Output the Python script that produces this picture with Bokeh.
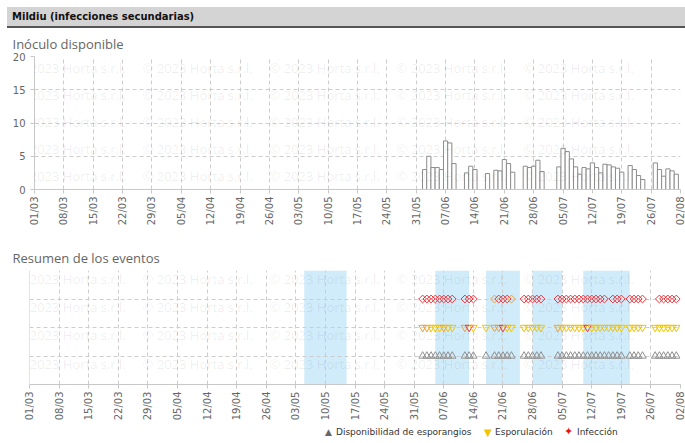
from math import pi
import pandas as pd
from bokeh.plotting import figure
from bokeh.models import ColumnDataSource, FixedTicker, LabelSet, Span, Div
from bokeh.layouts import column, row
from bokeh.embed import file_html
from bokeh.resources import INLINE
from bokeh.core.properties import value

# ---------------- data ----------------
temporada_inicio = "2023-03-01"
temporada_fin = "2023-08-02"
tick_etiquetas = ["01/03", "08/03", "15/03", "22/03", "29/03", "05/04", "12/04",
                  "19/04", "26/04", "03/05", "10/05", "17/05", "24/05", "31/05",
                  "07/06", "14/06", "21/06", "28/06", "05/07", "12/07", "19/07",
                  "26/07", "02/08"]

# Inóculo disponible: daily values of consecutive days starting on each date
inoculo_inicio = ["2023-06-02", "2023-06-12", "2023-06-17", "2023-06-19",
                  "2023-06-26", "2023-07-04", "2023-07-21", "2023-07-27"]
inoculo_valores = [
    [3.0, 5.0, 3.3, 3.3, 3.0, 7.3, 7.0, 3.9],
    [2.5, 3.5, 3.0],
    [2.4],
    [2.9, 2.8, 4.5, 3.9, 2.6],
    [3.5, 3.3, 3.5, 4.4, 2.7],
    [3.4, 6.2, 5.7, 4.6, 3.4, 2.3, 3.3, 3.1, 4.0, 3.3, 2.5, 3.8, 3.7, 3.4, 3.2, 2.6],
    [3.6, 3.0, 2.1, 1.5],
    [4.0, 3.0, 2.0, 3.1, 2.8, 2.3],
]

# Esporulación (same days as disponibilidad); days with higher level
esporulacion_naranja = ["2023-06-02", "2023-06-03", "2023-06-07", "2023-06-12",
                        "2023-06-19", "2023-06-20", "2023-07-04"]
esporulacion_roja = ["2023-06-13", "2023-06-21", "2023-07-11"]

# Infección: runs of consecutive days
infeccion_inicio = ["2023-06-02", "2023-06-12", "2023-06-19", "2023-06-26",
                    "2023-07-04", "2023-07-17", "2023-07-21", "2023-07-28"]
infeccion_dias = [8, 3, 5, 5, 12, 3, 4, 5]
infeccion_naranja = ["2023-06-19", "2023-06-23"]

# Periodos sombreados
periodos_inicio = ["2023-05-05", "2023-06-05", "2023-06-17", "2023-06-28", "2023-07-10"]
periodos_fin = ["2023-05-15", "2023-06-13", "2023-06-25", "2023-07-05", "2023-07-21"]

leyenda = ["Disponibilidad de esporangios", "Esporulación", "Infección"]

# ---------------- derived ----------------
t0 = pd.Timestamp(temporada_inicio)


def dia(s):
    return (pd.Timestamp(s) - t0).days


n_dias = dia(temporada_fin)
tick_dias = [dia(f"2023-{t[3:5]}-{t[0:2]}") for t in tick_etiquetas]
overrides = {d: t for d, t in zip(tick_dias, tick_etiquetas)}

bar_x, bar_y = [], []
for s, vals in zip(inoculo_inicio, inoculo_valores):
    for i, v in enumerate(vals):
        bar_x.append(dia(s) + i)
        bar_y.append(v)

YEL, ORA, RED, GRY = "#f2c500", "#f0a030", "#e8353b", "#8f8f8f"
n_esp = set(dia(s) for s in esporulacion_naranja)
r_esp = set(dia(s) for s in esporulacion_roja)
esp_col = [RED if d in r_esp else (ORA if d in n_esp else YEL) for d in bar_x]

inf_x = []
for s, n in zip(infeccion_inicio, infeccion_dias):
    inf_x += [dia(s) + i for i in range(n)]
n_inf = set(dia(s) for s in infeccion_naranja)
inf_col = [ORA if d in n_inf else RED for d in inf_x]

W = 685
GRID = "#cdcdcd"
AX = "#c8c8c8"
LBL = "#666666"


def style_common(p):
    p.outline_line_color = None
    p.background_fill_color = "white"
    p.border_fill_color = "white"
    ax = p.xaxis[0]
    ax.ticker = FixedTicker(ticks=tick_dias)
    ax.major_label_overrides = overrides
    ax.major_label_orientation = pi / 2
    ax.major_label_text_font = "DejaVu Sans"
    ax.major_label_text_font_size = "10px"
    ax.major_label_text_color = LBL
    ax.axis_line_color = AX
    ax.major_tick_line_color = AX
    ax.major_tick_in = 0
    ax.major_tick_out = 4
    ax.minor_tick_line_color = None
    ax.major_label_standoff = 3
    p.xgrid.ticker = FixedTicker(ticks=tick_dias)
    p.xgrid.grid_line_color = GRID
    p.xgrid.grid_line_dash = "4 3"
    p.ygrid.grid_line_color = GRID
    p.ygrid.grid_line_dash = "4 3"
    p.title.text_font = "Open Sans"
    p.title.text_font_size = "13px"
    p.title.text_font_style = "normal"
    p.title.text_color = "#666666"
    p.title.align = "left"
    p.title.standoff = 8


def watermark(p, left, bottom, y0, dy, nrows):
    xs, ys, ts = [], [], []
    for r in range(nrows):
        for c in range(5):
            xs.append(15 + 127 * c - left)
            ys.append(bottom - (y0 + dy * r))
            ts.append("© 2023 Horta s.r.l.")
    src = ColumnDataSource(dict(x=xs, y=ys, t=ts))
    p.add_layout(LabelSet(x="x", y="y", text="t", source=src, x_units="screen",
                          y_units="screen", text_font=value("Open Sans"),
                          text_font_size="13px", text_color="black", text_alpha=0.08,
                          text_baseline="middle", level="overlay"))


# ---------------- header ----------------
header = Div(text=('<div style="margin:7px 0 0 7px;width:678px;height:21px;'
                   'box-sizing:border-box;background:#d4d4d4;'
                   'border-bottom:2px solid #555;'
                   'font-family:\'DejaVu Sans\';font-weight:bold;font-size:10px;'
                   'color:#111;line-height:19px;padding-left:5px;">'
                   'Mildiu (infecciones secundarias)</div>'),
             width=W, height=28, margin=(0, 0, 0, 0))

# ---------------- top chart ----------------
p1 = figure(width=W, height=212, x_range=(0, n_dias), y_range=(0, 20),
            output_backend="svg", toolbar_location=None,
            min_border_left=34, min_border_right=5, min_border_top=28,
            min_border_bottom=51, title="Inóculo disponible")
style_common(p1)
p1.title.offset = -22
ay = p1.yaxis[0]
ay.ticker = FixedTicker(ticks=[0, 5, 10, 15, 20])
ay.major_label_text_font = "DejaVu Sans"
ay.major_label_text_font_size = "10px"
ay.major_label_text_color = LBL
ay.axis_line_color = AX
ay.major_tick_line_color = AX
ay.major_tick_in = 0
ay.major_tick_out = 4
ay.minor_tick_line_color = None
ay.major_label_standoff = 5

p1.vbar(x=bar_x, top=bar_y, width=1, fill_color="white", line_color="#8c8c8c",
        line_width=1)
watermark(p1, 34, 189, 40, 27, 8)

# ---------------- bottom chart ----------------
p2 = figure(width=W, height=185, x_range=(0, n_dias), y_range=(0, 4),
            output_backend="svg", toolbar_location=None, y_axis_location=None,
            min_border_left=29, min_border_right=5, min_border_top=30,
            min_border_bottom=41, title="Resumen de los eventos")
style_common(p2)
p2.title.offset = -17
p2.ygrid.ticker = FixedTicker(ticks=[1, 2, 3, 4])
p2.add_layout(Span(location=0, dimension="height", line_color=AX, line_width=1))

p2.quad(left=[dia(s) for s in periodos_inicio], right=[dia(s) for s in periodos_fin],
        bottom=0, top=4, fill_color="#d0ecfa", line_color=None, level="image")

p2.scatter(x=bar_x, y=[1] * len(bar_x), marker="triangle", size=7.5,
           fill_color=None, line_color=GRY, line_width=1)
p2.scatter(x=bar_x, y=[2] * len(bar_x), marker="inverted_triangle", size=7.5,
           fill_color=None, line_color=esp_col, line_width=1)
p2.scatter(x=inf_x, y=[3] * len(inf_x), marker="square", angle=pi / 4, size=5.5,
           fill_color=None, line_color=inf_col, line_width=1)
watermark(p2, 29, 384, 250, 28.3, 6)

# ---------------- legend ----------------
span = ('<span style="position:absolute;left:{x}px;top:{t}px;color:{c};'
        'font-size:{s}px;white-space:nowrap;">{txt}</span>')
leg_html = ('<div style="position:relative;width:685px;height:18px;'
            'font-family:\'DejaVu Sans\';line-height:12px;">'
            + span.format(x=325, t=1, c="#666666", s=9, txt="▲")
            + span.format(x=336, t=1, c="#333333", s=9, txt=leyenda[0])
            + span.format(x=484, t=2, c="#f5c400", s=10, txt="▼")
            + span.format(x=495, t=1, c="#333333", s=9, txt=leyenda[1])
            + span.format(x=564, t=1, c="#ee1111", s=11, txt="✦")
            + span.format(x=577, t=1, c="#333333", s=9, txt=leyenda[2])
            + '</div>')
legend_div = Div(text=leg_html, width=W, height=18, margin=(0, 0, 0, 0))

layout = column(header, row(p1), row(p2), legend_div)
open("out.html", "w").write(file_html(layout, INLINE))
